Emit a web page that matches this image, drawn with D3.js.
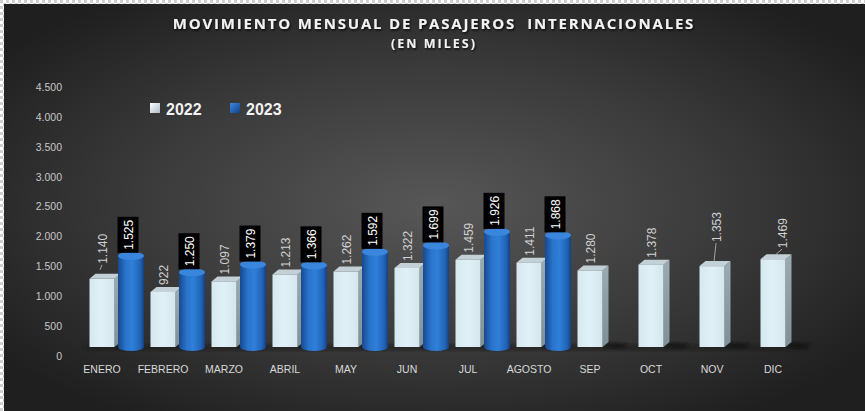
<!DOCTYPE html>
<html><head><meta charset="utf-8">
<script src="https://cdn.jsdelivr.net/npm/d3@7"></script>
<style>
html,body{margin:0;padding:0;background:#262626;}
svg{display:block;}
</style></head>
<body>
<script>
const categories = ["ENERO","FEBRERO","MARZO","ABRIL","MAY","JUN","JUL","AGOSTO","SEP","OCT","NOV","DIC"];
const values2022 = [1140,922,1097,1213,1262,1322,1459,1411,1280,1378,1353,1469];
const values2023 = [1525,1250,1379,1366,1592,1699,1926,1868];
const yTicks = [0,500,1000,1500,2000,2500,3000,3500,4000,4500];
const seriesNames = ["2022","2023"];
const titleText = "MOVIMIENTO MENSUAL DE PASAJEROS  INTERNACIONALES";
const subtitleText = "(EN MILES)";
// label leader adjustments for 2022 (dx, extra lift)
const leader2022 = {0:[0,8], 10:[4,17], 11:[9,4]};

const W = 865, H = 411;
const svg = d3.select("body").append("svg").attr("width", W).attr("height", H);
const defs = svg.append("defs");

const bg = defs.append("radialGradient").attr("id","bg").attr("cx","50%").attr("cy","50%").attr("r","62%");
bg.append("stop").attr("offset","0%").attr("stop-color","#575757");
bg.append("stop").attr("offset","55%").attr("stop-color","#3a3a3a");
bg.append("stop").attr("offset","100%").attr("stop-color","#1f1f1f");

const cyl = defs.append("linearGradient").attr("id","cyl").attr("x1","0").attr("x2","1").attr("y1","0").attr("y2","0");
[["0%","#17498f"],["30%","#2a74cc"],["55%","#2f7fd8"],["85%","#2164b8"],["100%","#173f80"]].forEach(s=>cyl.append("stop").attr("offset",s[0]).attr("stop-color",s[1]));
const front = defs.append("linearGradient").attr("id","front").attr("x1","0").attr("x2","1");
[["0%","#d6e9f0"],["50%","#e0f0f6"],["100%","#d4e6ed"]].forEach(s=>front.append("stop").attr("offset",s[0]).attr("stop-color",s[1]));
const side = defs.append("linearGradient").attr("id","side").attr("x1","0").attr("x2","0").attr("y1","0").attr("y2","1");
[["0%","#9aabb1"],["100%","#7f9096"]].forEach(s=>side.append("stop").attr("offset",s[0]).attr("stop-color",s[1]));
const leg1 = defs.append("linearGradient").attr("id","leg1").attr("x1","0").attr("x2","1").attr("y1","0").attr("y2","1");
leg1.append("stop").attr("offset","0%").attr("stop-color","#ffffff");
leg1.append("stop").attr("offset","100%").attr("stop-color","#a9bcc3");
const leg2 = defs.append("linearGradient").attr("id","leg2").attr("x1","0").attr("x2","1").attr("y1","0").attr("y2","1");
leg2.append("stop").attr("offset","0%").attr("stop-color","#3b8ae0");
leg2.append("stop").attr("offset","100%").attr("stop-color","#123f82");
const shadowF = defs.append("filter").attr("id","ts").attr("x","-10%").attr("y","-30%").attr("width","120%").attr("height","160%");
shadowF.append("feDropShadow").attr("dx",1).attr("dy",1.5).attr("stdDeviation",1).attr("flood-color","#000").attr("flood-opacity",0.8);
const blurF = defs.append("filter").attr("id","blur");
blurF.append("feGaussianBlur").attr("stdDeviation",1.5);

const pat = defs.append("pattern").attr("id","chk").attr("width",6).attr("height",6).attr("patternUnits","userSpaceOnUse");
pat.append("rect").attr("width",6).attr("height",6).attr("fill","#ffffff");
pat.append("rect").attr("width",3).attr("height",3).attr("fill","#cfcfcf");
pat.append("rect").attr("x",3).attr("y",3).attr("width",3).attr("height",3).attr("fill","#cfcfcf");

svg.append("rect").attr("width",W).attr("height",H).attr("fill","url(#bg)");
svg.append("rect").attr("x",0).attr("y",0).attr("width",W).attr("height",4).attr("fill","url(#chk)");
svg.append("rect").attr("x",0).attr("y",0).attr("width",4).attr("height",H).attr("fill","url(#chk)");

// Title
svg.append("text").attr("x",434).attr("y",29).attr("text-anchor","middle")
  .attr("font-family","Open Sans").attr("font-weight",700).attr("font-size",15).attr("letter-spacing",1.8)
  .attr("fill","#f2f2f2").attr("filter","url(#ts)").attr("xml:space","preserve").style("white-space","pre").text(titleText);
svg.append("text").attr("x",434).attr("y",48).attr("text-anchor","middle")
  .attr("font-family","Open Sans").attr("font-weight",700).attr("font-size",12.5).attr("letter-spacing",2)
  .attr("fill","#f2f2f2").attr("filter","url(#ts)").text(subtitleText);

// Scales
const y = d3.scaleLinear().domain([0,4500]).range([356,87]);
const x = d3.scaleBand().domain(categories).range([71.5, 803.5]).paddingInner(0).paddingOuter(0);
const depth = 9; // 3D floor lift
const yb = v => y(v) - depth;
const cx = c => x(c) + x.bandwidth()/2;

const loc = d3.formatLocale({decimal:",", thousands:".", grouping:[3], currency:["",""]});
const fmt = loc.format(",d");

// Y axis
const yAxis = svg.append("g").attr("transform","translate(66,0)")
  .call(d3.axisLeft(y).tickValues(yTicks).tickFormat(fmt).tickSize(0).tickPadding(4));
yAxis.select(".domain").remove();
yAxis.selectAll("text").attr("font-family","Liberation Sans").attr("font-size",10.5).attr("fill","#c8c8c8");

// X axis
const xAxis = svg.append("g").attr("transform","translate(0,366)")
  .call(d3.axisBottom(x).tickSize(0).tickPadding(0));
xAxis.select(".domain").remove();
xAxis.selectAll("text").attr("font-family","Liberation Sans").attr("font-size",10.5).attr("fill","#d9d9d9").attr("dy","0.71em");

// floor
svg.append("rect").attr("x",84).attr("y",yb(0)-3).attr("width",722).attr("height",7)
  .attr("fill","#1a1a1a").attr("opacity",0.55).attr("filter","url(#blur)");

const bw = 25, dx3 = 6, dy3 = 5;
const g = svg.append("g");

// shadows of 2022 bars
categories.forEach((c,i)=>{
  const l = cx(c) - bw/2, r = l + bw, b = yb(0);
  g.append("path").attr("d",`M${r},${b} L${r+dx3},${b-dy3} L${r+26},${b-3} L${r+20},${b+2} Z`)
    .attr("fill","#111").attr("opacity",0.6).attr("filter","url(#blur)");
});

// 2022 boxes
categories.forEach((c,i)=>{
  const v = values2022[i];
  const l = cx(c) - bw/2, r = l + bw, t = yb(v), b = yb(0);
  g.append("path").attr("d",`M${r},${t} L${r+dx3},${t-dy3} L${r+dx3},${b-dy3} L${r},${b} Z`).attr("fill","url(#side)");
  g.append("path").attr("d",`M${l},${t} L${l+dx3},${t-dy3} L${r+dx3},${t-dy3} L${r},${t} Z`).attr("fill","#c3d1d6");
  g.append("rect").attr("x",l).attr("y",t).attr("width",bw).attr("height",b-t).attr("fill","url(#front)");
});

// 2023 cylinders
const cw = 26, ry = 4;
values2023.forEach((v,i)=>{
  const c = categories[i];
  const l = cx(c) + 16, r = l + cw, t = yb(v), b = yb(0), m = (l+r)/2;
  g.append("path").attr("d",`M${l},${t} L${l},${b} A${cw/2},${ry} 0 0 0 ${r},${b} L${r},${t} Z`).attr("fill","url(#cyl)");
  g.append("ellipse").attr("cx",m).attr("cy",t).attr("rx",cw/2).attr("ry",ry).attr("fill","#3a86dc");
});

// 2022 labels
categories.forEach((c,i)=>{
  const v = values2022[i];
  const adj = leader2022[i] || [0,0];
  const tx = cx(c) + 1 + adj[0];
  const ty = yb(v) - dy3 - 2 - adj[1];
  if (adj[1] > 3) {
    g.append("line").attr("x1",tx-1).attr("y1",ty+1).attr("x2",cx(c)+(i===0?-2:2)).attr("y2",yb(v)-dy3+(i===0?-4:1))
      .attr("stroke","#bfbfbf").attr("stroke-width",0.8);
  }
  g.append("text").attr("transform",`translate(${tx+4},${ty}) rotate(-90)`)
    .attr("font-family","Liberation Sans").attr("font-size",12).attr("fill","#d0d0d0").text(fmt(v));
});

// 2023 labels
values2023.forEach((v,i)=>{
  const c = categories[i];
  const m = cx(c) + 16 + cw/2 - 3;
  const bottom = yb(v) - ry + 1;
  const txt = fmt(v);
  const tmp = g.append("text").attr("font-family","Liberation Sans").attr("font-size",12).text(txt);
  const len = tmp.node().getComputedTextLength();
  tmp.remove();
  const h = len + 6;
  g.append("rect").attr("x",m-10.5).attr("y",bottom-h).attr("width",21).attr("height",h).attr("fill","#000");
  g.append("text").attr("transform",`translate(${m+4.5},${bottom-3}) rotate(-90)`)
    .attr("font-family","Liberation Sans").attr("font-size",12).attr("fill","#ffffff").text(txt);
});

// Legend
const legend = svg.append("g");
const legData = [{name:seriesNames[0], fill:"url(#leg1)", x:150},{name:seriesNames[1], fill:"url(#leg2)", x:230}];
legData.forEach(d=>{
  legend.append("rect").attr("x",d.x).attr("y",103).attr("width",10).attr("height",10).attr("fill",d.fill);
  legend.append("text").attr("x",d.x+16).attr("y",114.5).attr("font-family","Liberation Sans").attr("font-weight","bold")
    .attr("font-size",16).attr("fill","#f2f2f2").text(d.name);
});
</script>
</body></html>
